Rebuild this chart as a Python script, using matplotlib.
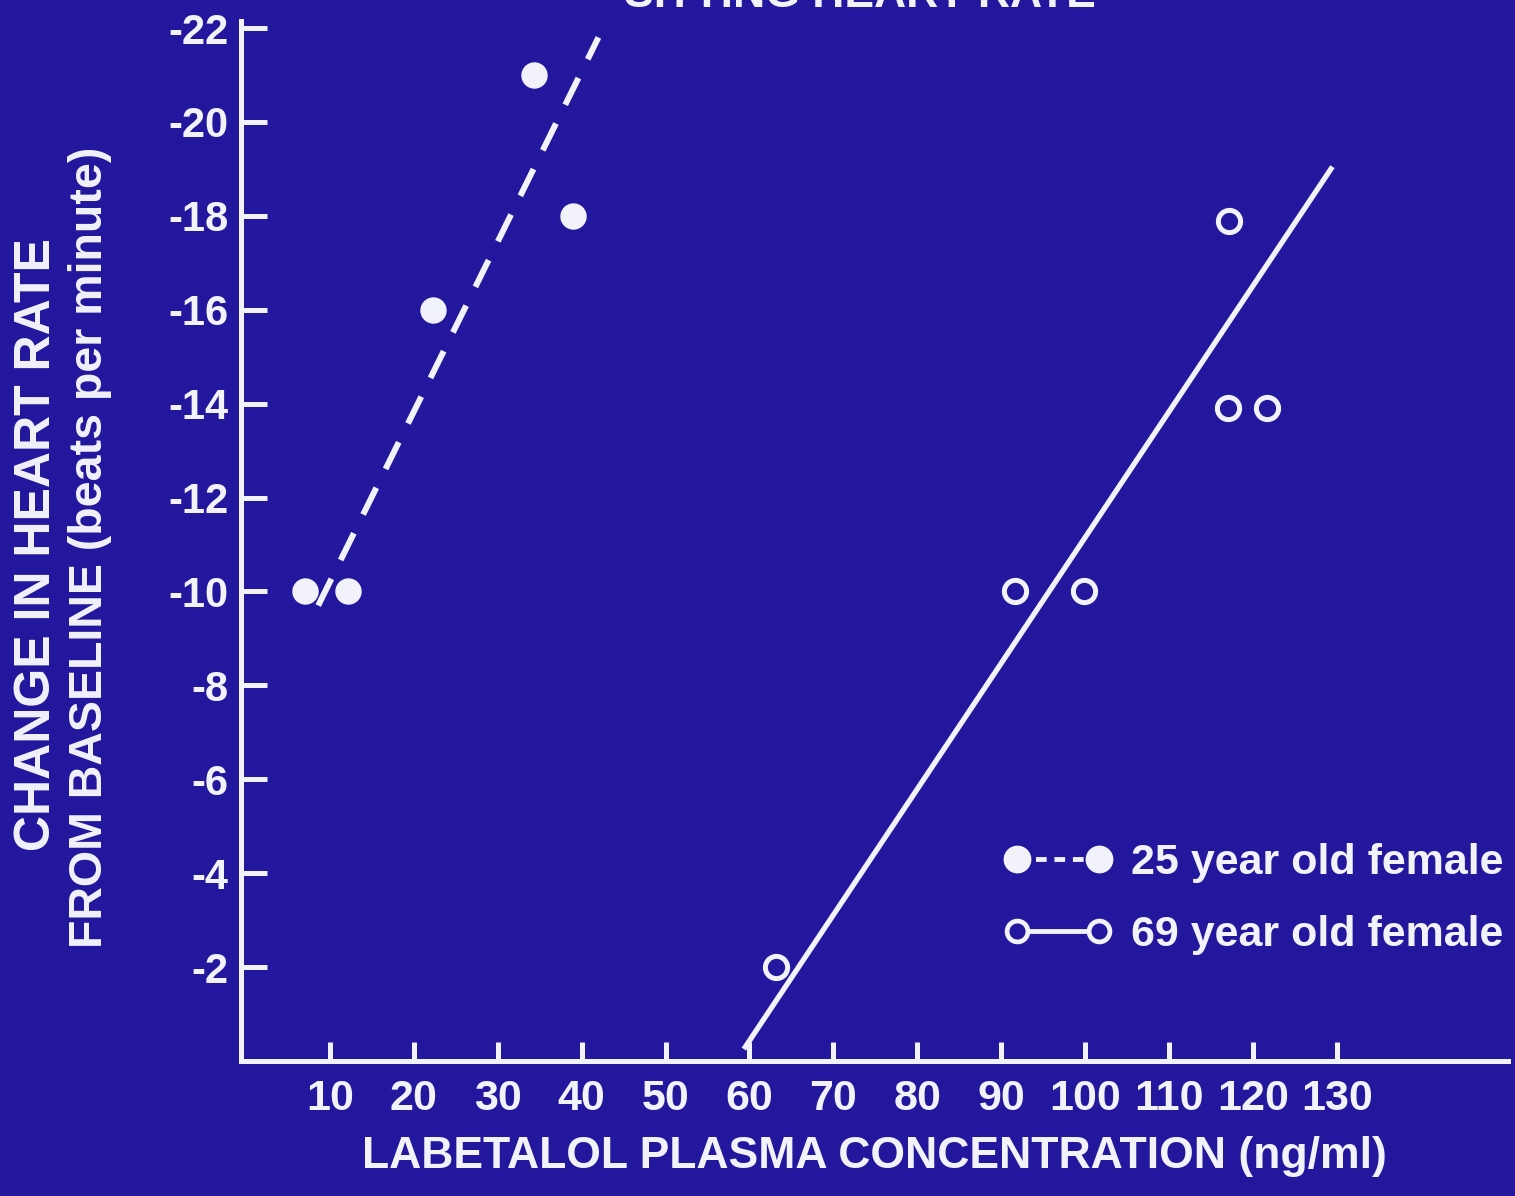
import matplotlib
matplotlib.use("Agg")
import matplotlib.pyplot as plt
from matplotlib.lines import Line2D

BG = "#23179d"
FG = "#f2f2fb"

# 25 year old female (filled circles)
young_conc = [7.0, 12.2, 22.3, 34.3, 39.0]
young_hr = [-10, -10, -16, -21, -18]
young_fit_conc = [8.6, 42.0]
young_fit_hr = [-9.7, -21.8]

# 69 year old female (open circles)
old_conc = [63.2, 91.7, 99.9, 117.1, 117.0, 121.7]
old_hr = [-2, -10, -10, -17.9, -13.9, -13.9]
old_fit_conc = [59.5, 129.3]
old_fit_hr = [-0.3, -19.0]

x_ticks = [10, 20, 30, 40, 50, 60, 70, 80, 90, 100, 110, 120, 130]
y_ticks = [-2, -4, -6, -8, -10, -12, -14, -16, -18, -20, -22]
legend_labels = ["25 year old female", "69 year old female"]

plt.rcParams["font.family"] = ["Liberation Sans", "DejaVu Sans"]
plt.rcParams["font.weight"] = "bold"

fig = plt.figure(figsize=(15.15, 11.96), dpi=100, facecolor=BG)
ax = fig.add_axes([241 / 1515, 1 - 1061 / 1196, 1267 / 1515, 1040 / 1196])
ax.set_facecolor(BG)

ax.plot(young_fit_conc, young_fit_hr, color=FG, lw=4.3, ls=(0, (5, 3.5)),
        solid_capstyle="butt")
ax.plot(old_fit_conc, old_fit_hr, color=FG, lw=3.8)
ax.plot(young_conc, young_hr, ls="none", marker="o", ms=18, color=FG,
        mec=FG, zorder=3)
ax.plot(old_conc, old_hr, ls="none", marker="o", ms=16, mfc=BG, mec=FG,
        mew=3.6, zorder=3)

ax.set_xlim(-0.6, 150.4)
ax.set_ylim(0, -22.15)

for side in ["top", "right"]:
    ax.spines[side].set_visible(False)
for side in ["left", "bottom"]:
    ax.spines[side].set_color(FG)
    ax.spines[side].set_linewidth(3.6)

ax.set_xticks(x_ticks)
ax.set_xticklabels([str(v) for v in x_ticks])
ax.set_yticks(y_ticks)
ax.set_yticklabels([str(v) for v in y_ticks])
ax.tick_params(axis="x", direction="in", length=14, width=3.6, color=FG,
               labelcolor=FG, labelsize=31, pad=13)
ax.tick_params(axis="y", direction="in", length=19, width=3.6, color=FG,
               labelcolor=FG, labelsize=30, pad=9)

ax.set_xlabel("LABETALOL PLASMA CONCENTRATION (ng/ml)", color=FG,
              fontsize=32, fontweight="bold", labelpad=12)

fig.text(37 / 1515, 1 - 545 / 1196, "CHANGE IN HEART RATE", color=FG,
         fontsize=36, fontweight="bold", rotation=90, ha="center",
         va="center")
fig.text(90 / 1515, 1 - 547 / 1196, "FROM BASELINE (beats per minute)",
         color=FG, fontsize=33.5, fontweight="bold", rotation=90,
         ha="center", va="center")

# title, cut off at the top edge as in the original scan
fig.text(860 / 1515, 1 - 7 / 1196, "SITTING HEART RATE", color=FG,
         fontsize=32, fontweight="bold", ha="center", va="baseline")

handles = [
    Line2D([], [], color=FG, lw=3.5, ls=(0, (2.2, 1.6)), marker="o", ms=19,
           mfc=FG, mec=FG),
    Line2D([], [], color=FG, lw=3.5, marker="o", ms=15, mfc=BG, mec=FG,
           mew=3.4),
]
leg = ax.legend(handles, legend_labels, loc="lower right",
                bbox_to_anchor=(1.01, 0.085), frameon=False, numpoints=2,
                handlelength=2.5, handletextpad=0.45, labelspacing=0.75,
                fontsize=31, borderaxespad=0)
for t in leg.get_texts():
    t.set_color(FG)

fig.savefig("out.png", dpi=100, facecolor=BG)
